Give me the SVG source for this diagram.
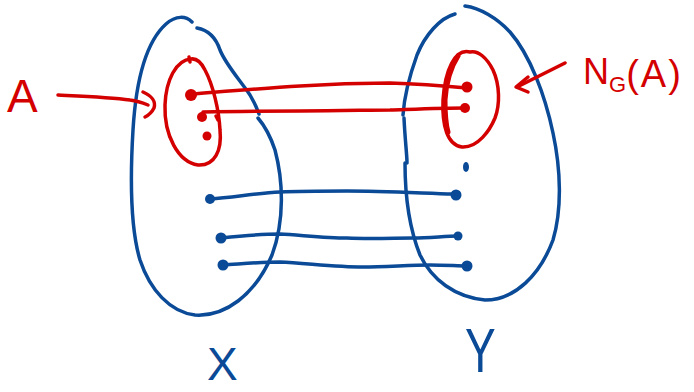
<svg xmlns="http://www.w3.org/2000/svg" width="694" height="392" viewBox="0 0 694 392">
<style>
.b{fill:none;stroke:#0a4a96;stroke-width:3.5;stroke-linecap:round;stroke-linejoin:round}
.r{fill:none;stroke:#d40000;stroke-width:3.5;stroke-linecap:round;stroke-linejoin:round}
.bd{fill:#0a4a96}
.rd{fill:#d40000}
.lb{font-family:"Liberation Sans",Arial,sans-serif;fill:#0a4a96}
.lr{font-family:"Liberation Sans",Arial,sans-serif;fill:#d40000}
</style>
<rect width="694" height="392" fill="#fff"/>
<g id="setX">
<path class="b" d="M192,22 C186,16 176,15 166,24 C146,42 136,80 133,130 C130,180 131,230 140,260 C150,290 170,312 195,315 C225,317 255,295 272,255 C285,220 283,180 275,150 C270,135 264,125 258,118"/>
<path class="b" d="M197,28 C208,30 216,38 220,50 C226,65 240,80 250,95 C254,102 257,108 259,114"/>
<circle class="bd" cx="210" cy="199" r="5"/>
<circle class="bd" cx="221" cy="238" r="5.5"/>
<circle class="bd" cx="223" cy="265" r="5.5"/>
</g>
<g id="setY">
<path class="b" d="M455,14 C440,18 425,35 417,55 C408,80 404,100 403,115"/>
<path class="b" d="M404,118 C405,140 407,155 407,163"/>
<path class="b" d="M405,163 C405,200 410,230 420,255 C432,280 455,297 485,300 C515,300 540,275 553,240 C562,210 561,170 553,133 C545,95 530,55 510,32 C497,18 480,8 465,6"/>
<ellipse class="bd" cx="466" cy="167" rx="3" ry="5"/>
<circle class="bd" cx="456" cy="195" r="5.5"/>
<circle class="bd" cx="458" cy="236" r="4.5"/>
<circle class="bd" cx="467" cy="266" r="5.5"/>
</g>
<g id="setA">
<path class="r" d="M191,59 C176,60 166,80 165,105 C164,135 178,162 198,165 C215,166 222,150 220,130 C219,110 213,85 205,70 C201,62 197,58 191,59"/>
<path class="r" d="M189,57 L190,62"/>
<circle class="rd" cx="191" cy="95" r="6"/>
<circle class="rd" cx="202" cy="117" r="5"/>
<circle class="rd" cx="207" cy="136" r="4.5"/>
<path class="r" d="M216,116 L218,120"/>
</g>
<g id="setNGA">
<path class="r" d="M470,52 C455,48 445,70 443,100 C442,125 447,145 462,147 C478,148 490,130 495,118 C500,105 500,85 493,70 C487,58 478,50 470,52"/>
<path class="r" style="stroke-width:5" d="M458,56 C449,70 446,85 445,100 C445,112 446,125 448,132"/>
<circle class="rd" cx="467" cy="87" r="5.5"/>
<circle class="rd" cx="465" cy="108" r="5"/>
</g>
<g id="connectors">
<path class="r" d="M192,94 C230,91 265,88 300,86 C330,84 360,83 390,83 C420,84 445,86 467,88"/>
<path class="r" d="M203,112 C240,111 270,111 300,111 C340,111 370,110 390,110 C420,109 445,108 465,108"/>
<path class="b" d="M210,199 C235,197 258,193 280,192 C300,191 325,191 347,191 C380,191 420,193 453,194"/>
<path class="b" d="M221,238 C240,236 260,234 280,234 C300,235 325,238 347,238 C370,239 395,238 413,238 C430,238 445,236 458,236"/>
<path class="b" d="M223,265 C240,264 260,262 280,262 C305,263 335,267 363,267 C385,267 410,265 430,265 C445,265 458,266 467,266"/>
<path class="r" d="M58,95 C80,96 110,97 130,100 C138,101 143,103 148,105"/>
<path class="r" d="M143,92 C152,96 156,102 154,108 C152,112 149,115 145,117"/>
<path class="r" d="M565,63 L517,87"/>
<path class="r" d="M528,77 L516,87 L528,92"/>
</g>
<g id="labels">
<text class="lr" x="7" y="112" font-size="46">A</text>
<text class="lr" x="583" y="84" font-size="36">N<tspan font-size="22" dy="8">G</tspan><tspan dy="-5" font-size="38" letter-spacing="2">(A)</tspan></text>
<text class="lb" x="207" y="380" font-size="46">X</text>
<text class="lb" x="0" y="0" font-size="46" transform="translate(465,372) scale(1,1.35)">Y</text>
</g>
</svg>
